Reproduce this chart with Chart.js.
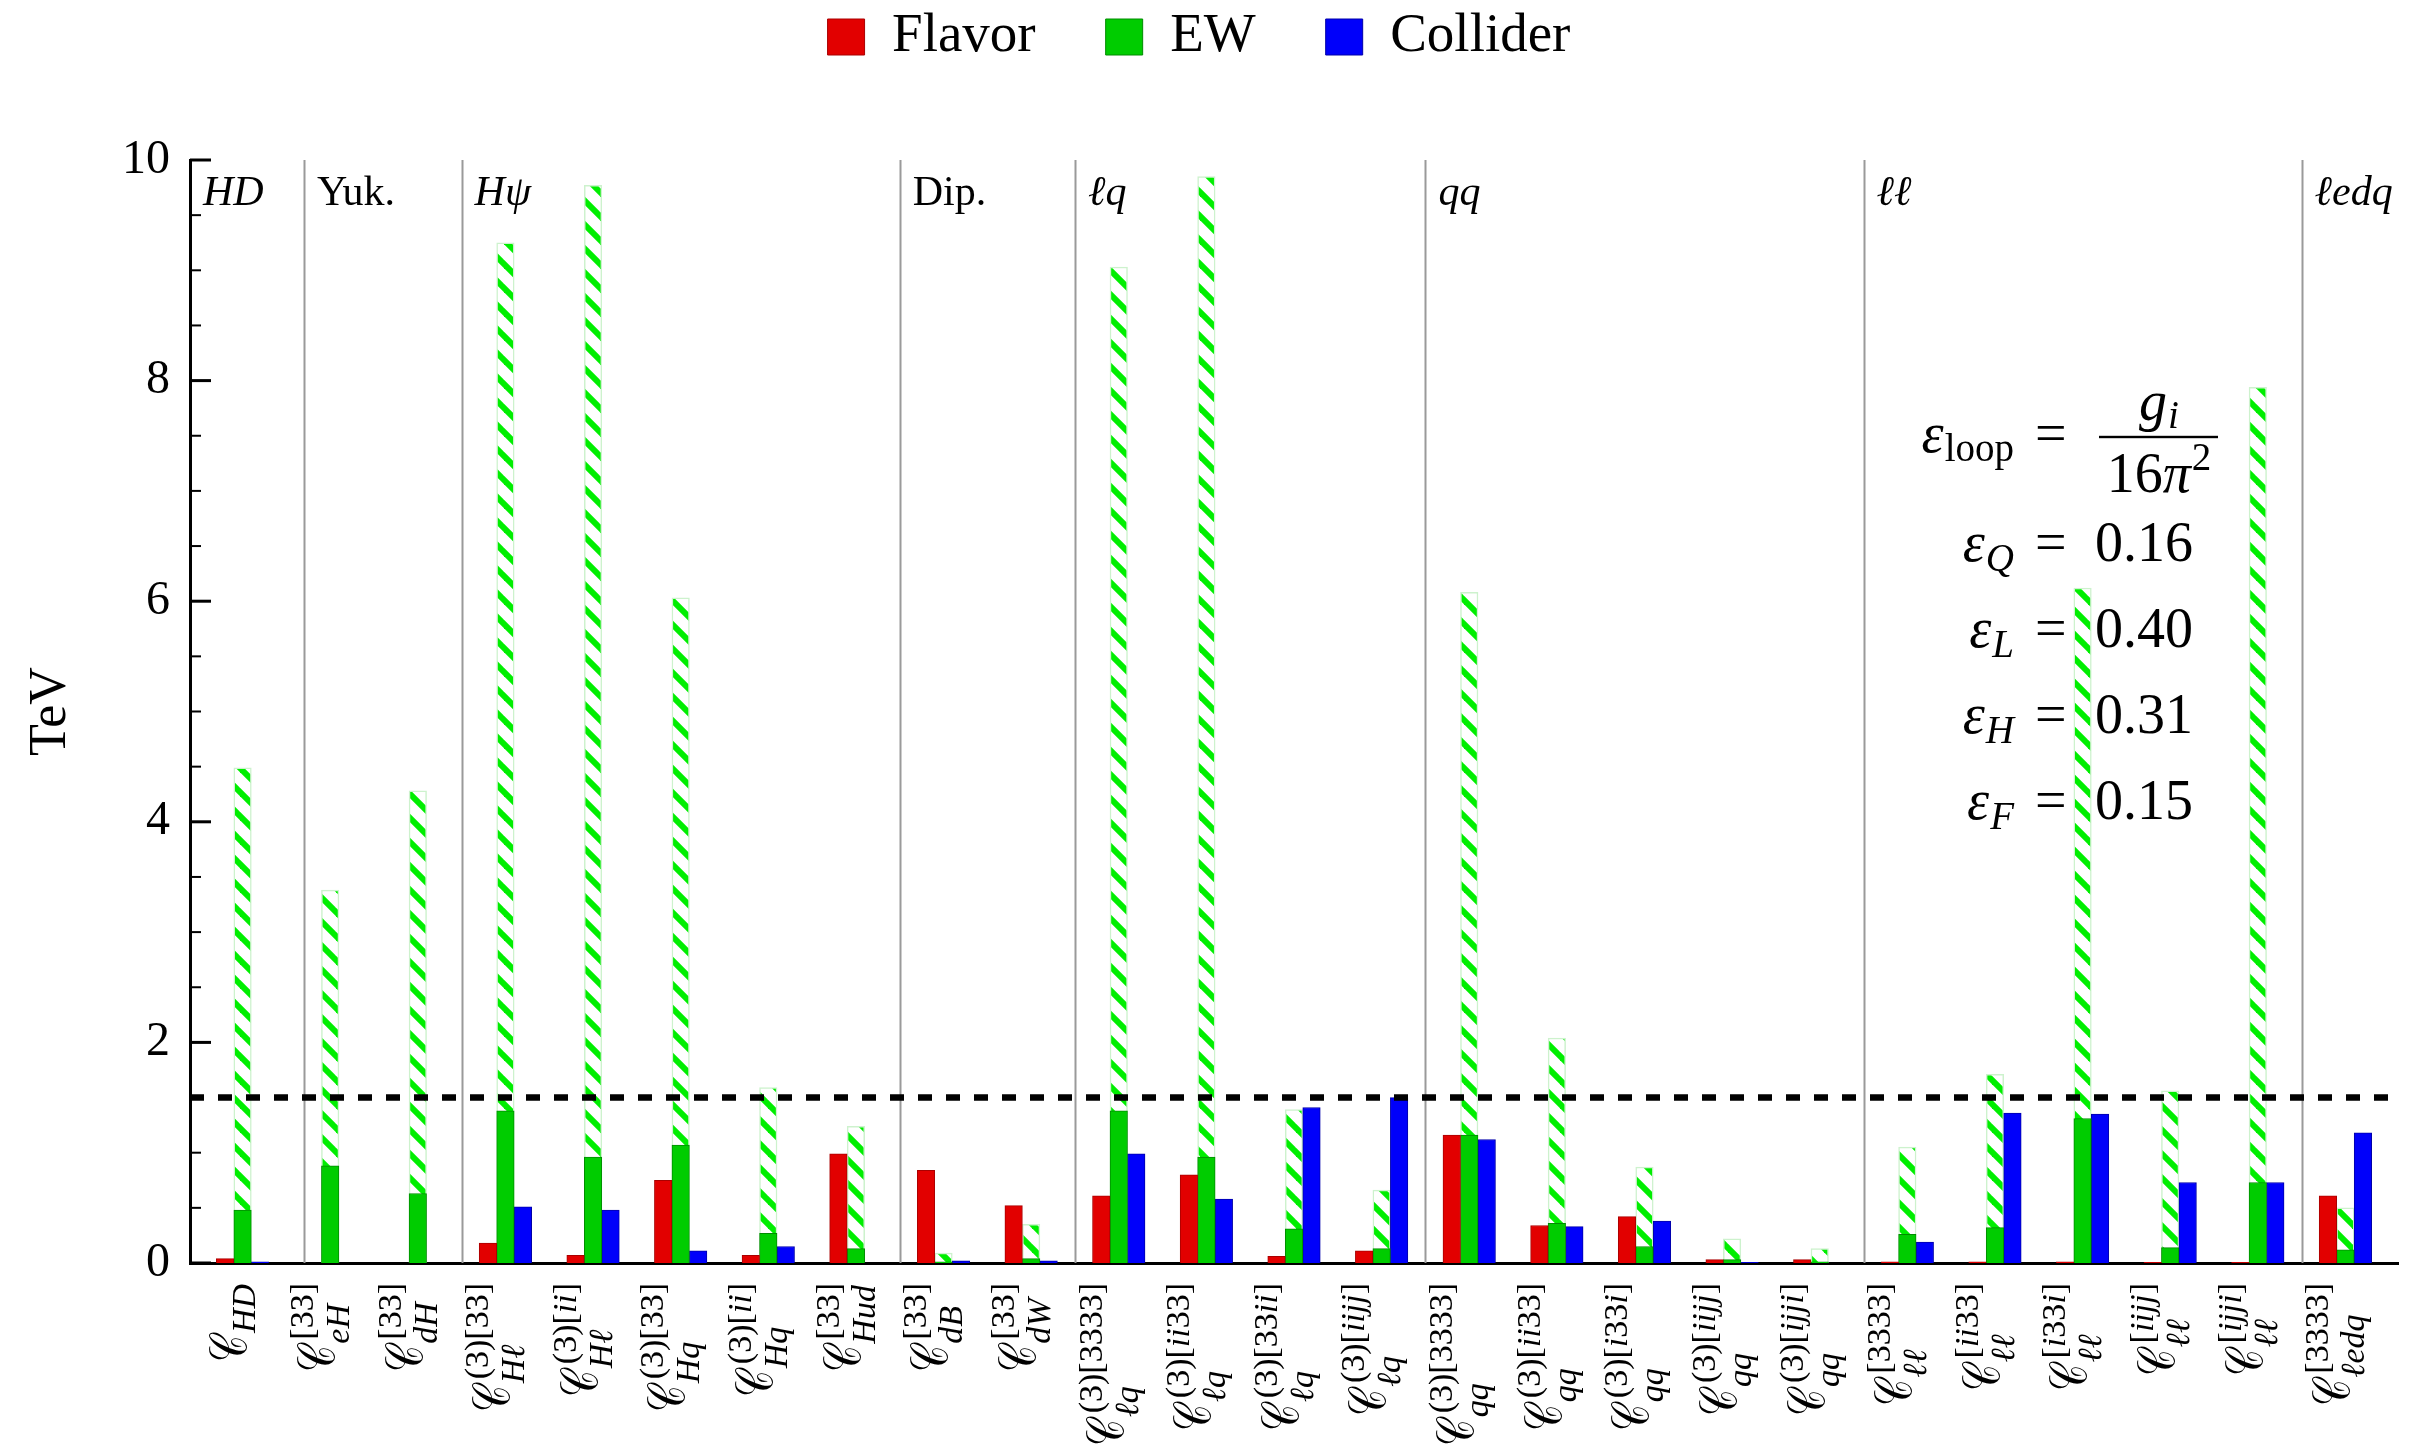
<!DOCTYPE html>
<html>
<head>
<meta charset="utf-8">
<script src="https://cdn.jsdelivr.net/npm/chart.js@4/dist/chart.umd.min.js"></script>
<style>
html,body{margin:0;padding:0;background:#fff;overflow:hidden}
canvas{display:block}
</style>
</head>
<body>
<canvas id="c" width="2421" height="1455"></canvas>
<script>
// ---------------- data ----------------
const categories = ['C_HD','C_eH[33]','C_dH[33]','C_Hl(3)[33]','C_Hl(3)[ii]','C_Hq(3)[33]','C_Hq(3)[ii]','C_Hud[33]','C_dB[33]','C_dW[33]',
  'C_lq(3)[3333]','C_lq(3)[ii33]','C_lq(3)[33ii]','C_lq(3)[iijj]','C_qq(3)[3333]','C_qq(3)[ii33]','C_qq(3)[i33i]','C_qq(3)[iijj]','C_qq(3)[ijji]',
  'C_ll[3333]','C_ll[ii33]','C_ll[i33i]','C_ll[iijj]','C_ll[ijji]','C_ledq[3333]'];
const subLabels = ['HD','eH','dH','Hℓ','Hℓ','Hq','Hq','Hud','dB','dW','ℓq','ℓq','ℓq','ℓq','qq','qq','qq','qq','qq','ℓℓ','ℓℓ','ℓℓ','ℓℓ','ℓℓ','ℓedq'];
const supLabels = ['','[33]','[33]','(3)[33]','(3)[ii]','(3)[33]','(3)[ii]','[33]','[33]','[33]',
  '(3)[3333]','(3)[ii33]','(3)[33ii]','(3)[iijj]','(3)[3333]','(3)[ii33]','(3)[i33i]','(3)[iijj]','(3)[ijji]',
  '[3333]','[ii33]','[i33i]','[iijj]','[ijji]','[3333]'];
const flavor   = [0.04,0,0,0.18,0.07,0.75,0.07,0.99,0.84,0.52,0.61,0.80,0.06,0.11,1.16,0.34,0.42,0.03,0.03,0.01,0.01,0.01,0.005,0.005,0.61];
const ew       = [0.48,0.88,0.63,1.38,0.96,1.07,0.27,0.13,0.01,0.04,1.38,0.96,0.31,0.13,1.16,0.36,0.15,0.03,0.01,0.26,0.32,1.31,0.14,0.73,0.12];
const collider = [0.01,0,0,0.51,0.48,0.11,0.15,0,0.02,0.02,0.99,0.58,1.41,1.50,1.12,0.33,0.38,0.005,0,0.19,1.36,1.35,0.73,0.73,1.18];
const ewLoop   = [4.49,3.38,4.28,9.25,9.77,6.03,1.59,1.24,0.09,0.35,9.03,9.85,1.39,0.66,6.08,2.04,0.87,0.22,0.13,1.05,1.71,6.12,1.56,7.94,0.50];
const threshold = [1.5];
const xRange = [0.4, 25.6];
const yRange = [0, 10];
const sectionStarts = [0.4, 1.7, 3.5, 8.5, 10.5, 14.5, 19.5, 24.5];
const sectionNames  = ['HD','Yuk.','Hψ','Dip.','ℓq','qq','ℓℓ','ℓedq'];
const sectionUpright = [false,true,false,true,false,false,false,false];
const legendNames = ['Flavor','EW','Collider'];
const epsNames  = ['Q','L','H','F'];
const epsValues = ['0.16','0.40','0.31','0.15'];

// ---------------- helpers ----------------
const FAM = '"Liberation Serif", "DejaVu Serif", serif';
const mathRe = /[A-Za-zℓψεπ]/;
function fontStr(size, italic){ return (italic ? 'italic ' : '') + size + 'px ' + FAM; }
function splitRuns(text, upright){
  const runs = [];
  for (const ch of text){
    const it = !upright && mathRe.test(ch);
    if (runs.length && runs[runs.length-1].it === it) runs[runs.length-1].t += ch;
    else runs.push({t: ch, it});
  }
  return runs;
}
function measureMath(ctx, text, size, upright){
  let w = 0;
  for (const r of splitRuns(text, upright)){ ctx.font = fontStr(size, r.it); w += ctx.measureText(r.t).width; }
  return w;
}
function drawMath(ctx, text, x, y, size, upright){
  for (const r of splitRuns(text, upright)){ ctx.font = fontStr(size, r.it); ctx.fillText(r.t, x, y); x += ctx.measureText(r.t).width; }
  return x;
}
function makeHatch(ctx){
  const T = 24, c = document.createElement('canvas');
  c.width = T; c.height = T;
  const g = c.getContext('2d');
  g.fillStyle = '#ffffff'; g.fillRect(0, 0, T, T);
  g.strokeStyle = '#00ee00'; g.lineWidth = 6;
  for (const k of [-1, 0, 1]){ g.beginPath(); g.moveTo(k*T - 3, -3); g.lineTo(k*T + T + 3, T + 3); g.stroke(); }
  return ctx.createPattern(c, 'repeat');
}

const canvas = document.getElementById('c');
const ctx0 = canvas.getContext('2d');
const hatch = makeHatch(ctx0);
const toXY = arr => arr.map((v, i) => ({x: i + 1, y: v}));

// ---------------- custom drawing ----------------
const decor = {
  id: 'decor',
  beforeDatasetsDraw(chart){
    const {ctx, chartArea: a, scales: {x}} = chart;
    ctx.save();
    ctx.strokeStyle = '#9a9a9a'; ctx.lineWidth = 2;
    sectionStarts.slice(1).forEach(v => {
      const px = Math.round(x.getPixelForValue(v)) + 0.5;
      ctx.beginPath(); ctx.moveTo(px, a.top); ctx.lineTo(px, a.bottom); ctx.stroke();
    });
    ctx.fillStyle = '#000'; ctx.textAlign = 'left'; ctx.textBaseline = 'alphabetic';
    sectionNames.forEach((n, i) => {
      drawMath(ctx, n, x.getPixelForValue(sectionStarts[i]) + 13, a.top + 45, 42, sectionUpright[i]);
    });
    const S = 56, s = 39;
    const eqX = 2035, valX = 2095, leftEnd = 2014;
    let b = 452;
    ctx.font = fontStr(s, false);
    const wLoop = ctx.measureText('loop').width;
    ctx.font = fontStr(S, true);
    const wEps = ctx.measureText('ε').width;
    ctx.fillText('ε', leftEnd - wLoop - wEps - 1, b);
    ctx.font = fontStr(s, false); ctx.fillText('loop', leftEnd - wLoop, b + 9);
    ctx.font = fontStr(S, false); ctx.fillText('=', eqX, b);
    const fracL = 2099, fracR = 2218, fracC = (fracL + fracR) / 2, barY = 437;
    ctx.fillRect(fracL, barY - 1.2, fracR - fracL, 2.4);
    ctx.font = fontStr(S, true); const wg = ctx.measureText('g').width;
    ctx.font = fontStr(s, true); const wi = ctx.measureText('i').width;
    let nx = fracC - (wg + wi) / 2;
    ctx.font = fontStr(S, true); ctx.fillText('g', nx, 420);
    ctx.font = fontStr(s, true); ctx.fillText('i', nx + wg + 1, 428);
    const w16 = measureMath(ctx, '16π', S, false);
    ctx.font = fontStr(s, false); const w2 = ctx.measureText('2').width;
    let dx = fracC - (w16 + w2) / 2;
    dx = drawMath(ctx, '16π', dx, 492, S, false);
    ctx.font = fontStr(s, false); ctx.fillText('2', dx + 1, 470);
    epsNames.forEach((n, i) => {
      const by = 561 + i * 86;
      ctx.font = fontStr(s, true); const wn = ctx.measureText(n).width;
      ctx.font = fontStr(S, true); const we = ctx.measureText('ε').width;
      ctx.fillText('ε', leftEnd - wn - we - 1, by);
      ctx.font = fontStr(s, true); ctx.fillText(n, leftEnd - wn, by + 10);
      ctx.font = fontStr(S, false); ctx.fillText('=', eqX, by);
      ctx.fillText(epsValues[i], valX, by);
    });
    ctx.restore();
  },
  afterDraw(chart){
    const {ctx, chartArea: a, scales: {x, y}} = chart;
    ctx.save();
    ctx.strokeStyle = '#000';
    for (let v = y.min; v <= y.max + 1e-9; v += 0.5){
      const major = Math.abs(v / 2 - Math.round(v / 2)) < 1e-9;
      const py = y.getPixelForValue(v);
      ctx.lineWidth = major ? 3 : 2;
      ctx.beginPath(); ctx.moveTo(a.left, py); ctx.lineTo(a.left + (major ? 21 : 11), py); ctx.stroke();
    }
    // rotated category labels
    const s = 34, gap = 20, cInkW = 27, cInkH = 38;
    ctx.font = fontStr(54, false);
    const m0 = ctx.measureText('𝒞');
    const h0 = (m0.actualBoundingBoxAscent + m0.actualBoundingBoxDescent) || 38;
    const M = 54 * cInkH / h0;
    ctx.font = fontStr(M, false);
    const m = ctx.measureText('𝒞');
    const inkL = m.actualBoundingBoxLeft || 0;
    const inkW = (m.actualBoundingBoxLeft + m.actualBoundingBoxRight) || m.width;
    const asc = m.actualBoundingBoxAscent || 30, desc = m.actualBoundingBoxDescent || 0;
    const kx = Math.min(1, cInkW / inkW);
    const base = (asc - desc) / 2;
    ctx.fillStyle = '#000'; ctx.textAlign = 'left'; ctx.textBaseline = 'alphabetic';
    categories.forEach((c, i) => {
      const cx = x.getPixelForValue(i + 1);
      ctx.save();
      ctx.translate(cx, a.bottom);
      ctx.rotate(-Math.PI / 2);
      const sub = subLabels[i], sup = supLabels[i];
      const wSub = measureMath(ctx, sub, s, false);
      const wSup = sup ? measureMath(ctx, sup, s, false) + 3 : 0;
      const total = cInkW + Math.max(wSub, wSup);
      const x0 = -(gap + total);
      ctx.save();
      ctx.translate(x0, base);
      ctx.scale(kx, 1);
      ctx.font = fontStr(M, false);
      ctx.fillText('𝒞', inkL, 0);
      ctx.restore();
      drawMath(ctx, sub, x0 + cInkW - 1, base + (sup ? 14 : 8), s, false);
      if (sup) drawMath(ctx, sup, x0 + cInkW + 3, base - 22, s, false);
      ctx.restore();
    });
    ctx.restore();
  }
};

Chart.defaults.font.family = FAM;
Chart.defaults.color = '#000';

new Chart(canvas, {
  type: 'bar',
  data: {
    datasets: [
      {label: legendNames[0], data: toXY(flavor), stack: 'a', backgroundColor: 'rgb(226,0,0)', borderColor: 'rgb(170,0,0)', borderWidth: 1, barThickness: 17.5},
      {label: legendNames[1], data: toXY(ew), stack: 'b', backgroundColor: 'rgb(0,204,0)', borderColor: 'rgb(0,140,0)', borderWidth: 1, barThickness: 17.5},
      {label: legendNames[2], data: toXY(collider), stack: 'c', backgroundColor: 'rgb(0,0,250)', borderColor: 'rgb(0,0,170)', borderWidth: 1, barThickness: 17.5},
      {label: 'EW (loop)', data: toXY(ewLoop), stack: 'b', backgroundColor: hatch, borderColor: 'rgb(205,242,205)', borderWidth: 1.5, barThickness: 17.5},
      {type: 'line', label: 'threshold', data: [{x: xRange[0], y: threshold[0]}, {x: xRange[1], y: threshold[0]}],
       borderColor: '#000', borderWidth: 6.5, borderDash: [14, 14], pointRadius: 0, order: -1, fill: false}
    ]
  },
  options: {
    responsive: false,
    animation: false,
    events: [],
    layout: {padding: {top: -60.5, left: 0, right: 23, bottom: 192}},
    plugins: {
      legend: {
        position: 'top',
        labels: {
          font: {size: 55}, color: '#000', boxWidth: 37, boxHeight: 36, padding: 70,
          filter: item => item.datasetIndex <= 2
        }
      },
      title: {display: true, text: '', position: 'top', weight: 0, font: {size: 10}, padding: {top: 0, bottom: 73.5}},
      tooltip: {enabled: false}
    },
    scales: {
      x: {
        type: 'linear', min: xRange[0], max: xRange[1], offset: false,
        ticks: {display: false},
        grid: {display: false, drawTicks: false, offset: false},
        border: {display: true, color: '#000', width: 3}
      },
      y: {
        min: yRange[0], max: yRange[1], stacked: false,
        ticks: {stepSize: 2, font: {size: 48}, color: '#000', padding: 20},
        grid: {display: false, drawTicks: false},
        border: {display: true, color: '#000', width: 3},
        title: {display: true, text: 'TeV', font: {size: 52}, color: '#000', padding: {top: 20, bottom: 0}},
        afterFit(scale){ scale.width = 190; }
      }
    }
  },
  plugins: [decor]
});
</script>
</body>
</html>
